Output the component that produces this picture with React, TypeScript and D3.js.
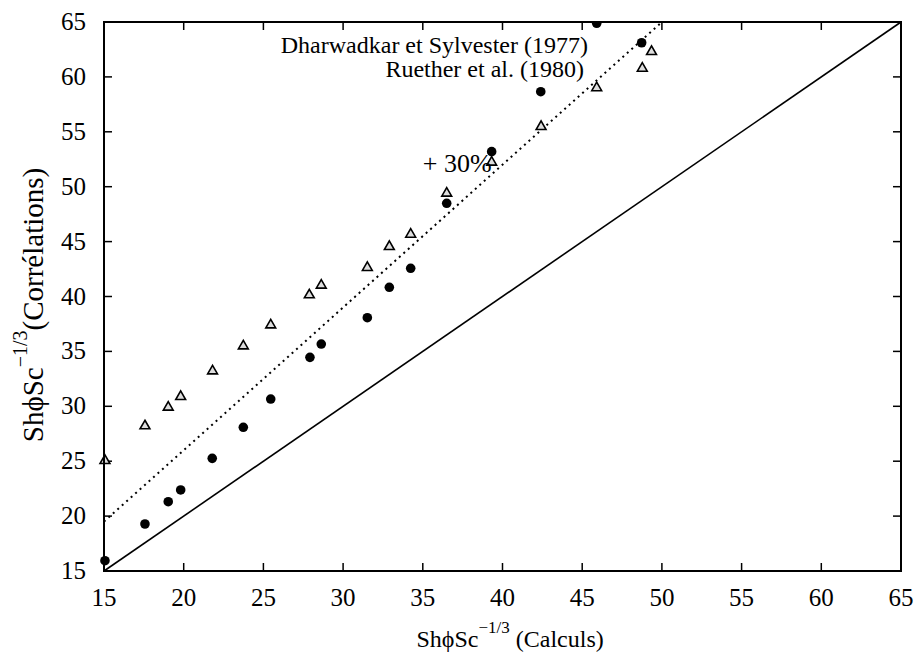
import { useMemo } from 'react';
import * as d3 from 'd3';

const WIDTH = 919;
const HEIGHT = 656;

// Dharwadkar et Sylvester (1977) — filled circles
const dharwadkarX = [15.06, 17.57, 19.03, 19.81, 21.79, 23.74, 25.46, 27.92, 28.63, 31.52, 32.9, 34.24, 36.5, 39.32, 42.4, 45.91, 48.73];
const dharwadkarY = [15.94, 19.28, 21.31, 22.38, 25.26, 28.09, 30.66, 34.46, 35.67, 38.07, 40.84, 42.57, 48.49, 53.19, 58.65, 64.88, 63.11];

// Ruether et al. (1980) — open triangles
const ruetherX = [15.06, 17.57, 19.03, 19.81, 21.81, 23.74, 25.46, 27.88, 28.63, 31.52, 32.9, 34.24, 36.5, 39.32, 42.42, 45.91, 48.77, 49.35];
const ruetherY = [25.05, 28.21, 29.91, 30.88, 33.21, 35.49, 37.4, 40.14, 41.02, 42.63, 44.54, 45.66, 49.4, 52.22, 55.47, 59.0, 60.78, 62.3];

const tickValues = [15, 20, 25, 30, 35, 40, 45, 50, 55, 60, 65];
const seriesNames = ['Dharwadkar et Sylvester (1977)', 'Ruether et al. (1980)'];
const parityFactor = 1.3; // "+ 30%" line
const domain: [number, number] = [15, 65];

const FONT = "'Liberation Serif', 'Times New Roman', Tinos, 'DejaVu Serif', serif";

export default function App() {
  const margin = { top: 22, right: 18, bottom: 85, left: 104 };
  const innerW = WIDTH - margin.left - margin.right;
  const innerH = HEIGHT - margin.top - margin.bottom;

  const xScale = useMemo(() => d3.scaleLinear().domain(domain).range([0, innerW]), [innerW]);
  const yScale = useMemo(() => d3.scaleLinear().domain(domain).range([innerH, 0]), [innerH]);

  const line = d3.line<[number, number]>().x((d) => xScale(d[0])).y((d) => yScale(d[1]));

  // y = x
  const diag = line([[domain[0], domain[0]], [domain[1], domain[1]]]) ?? '';
  // y = 1.3 x, clipped at the top of the frame
  const xTop = domain[1] / parityFactor;
  const plus30 = line([[domain[0], domain[0] * parityFactor], [xTop, domain[1]]]) ?? '';

  const tri = d3.symbol().type(d3.symbolTriangle).size(42)() ?? '';

  const tickLen = 8;

  return (
    <svg
      width={WIDTH}
      height={HEIGHT}
      style={{ position: 'absolute', left: 0, top: 0, background: '#fff', fontFamily: FONT }}
    >
      <style>{`text { font-family: ${FONT}; fill: #000; }`}</style>
      <defs>
        <clipPath id="plot-clip">
          <rect x={-6} y={-1} width={innerW + 7} height={innerH + 2} />
        </clipPath>
      </defs>
      <g transform={`translate(${margin.left},${margin.top})`}>
        {/* ticks, mirrored on all four sides */}
        {tickValues.map((t) => (
          <g key={`xt${t}`}>
            <line x1={xScale(t)} x2={xScale(t)} y1={innerH} y2={innerH - tickLen} stroke="#000" strokeWidth={1.5} />
            <line x1={xScale(t)} x2={xScale(t)} y1={0} y2={tickLen} stroke="#000" strokeWidth={1.5} />
            <text x={xScale(t)} y={innerH + 35} textAnchor="middle" fontSize={25}>{t}</text>
          </g>
        ))}
        {tickValues.map((t) => (
          <g key={`yt${t}`}>
            <line x1={0} x2={tickLen} y1={yScale(t)} y2={yScale(t)} stroke="#000" strokeWidth={1.5} />
            <line x1={innerW} x2={innerW - tickLen} y1={yScale(t)} y2={yScale(t)} stroke="#000" strokeWidth={1.5} />
            <text x={-18} y={yScale(t) + 8} textAnchor="end" fontSize={25}>{t}</text>
          </g>
        ))}

        <g clipPath="url(#plot-clip)">
          <path d={diag} fill="none" stroke="#000" strokeWidth={1.6} />
          <path d={plus30} fill="none" stroke="#000" strokeWidth={2} strokeDasharray="2,4" />

          {dharwadkarX.map((x, i) => (
            <circle key={`d${i}`} cx={xScale(x)} cy={yScale(dharwadkarY[i])} r={4.8} fill="#000" />
          ))}
          {ruetherX.map((x, i) => (
            <path
              key={`r${i}`}
              d={tri}
              transform={`translate(${xScale(x)},${yScale(ruetherY[i])})`}
              fill="#ddd"
              stroke="#000"
              strokeWidth={1.6}
            />
          ))}
        </g>

        {/* frame */}
        <rect x={0} y={0} width={innerW} height={innerH} fill="none" stroke="#000" strokeWidth={2} />

        {/* key text */}
        <text x={484} y={31} textAnchor="end" fontSize={24}>{seriesNames[0]}</text>
        <text x={480} y={55} textAnchor="end" fontSize={24}>{seriesNames[1]}</text>

        <text x={xScale(35.0)} y={yScale(51.35)} fontSize={26}>+ 30%</text>

        {/* axis titles */}
        <text x={innerW / 2 - 86} y={innerH + 76} fontSize={24}>
          ShϕSc
          <tspan dy={-14} fontSize={17}>−1/3</tspan>
          <tspan dy={14}> (Calculs)</tspan>
        </text>
        <text transform={`translate(${-61},${283}) rotate(-90)`} textAnchor="middle" fontSize={29}>
          ShϕSc
          <tspan dy={-16} fontSize={20}>−1/3</tspan>
          <tspan dy={16}>(Corrélations)</tspan>
        </text>
      </g>
    </svg>
  );
}
